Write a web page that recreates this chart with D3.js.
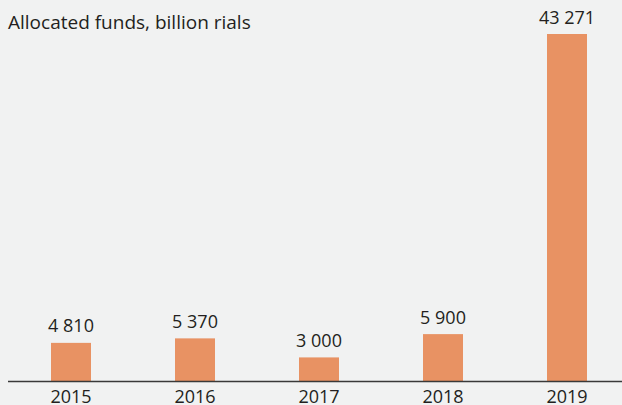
<!DOCTYPE html>
<html>
<head>
<meta charset="utf-8">
<script src="https://cdn.jsdelivr.net/npm/d3@7"></script>
<style>
  body { margin: 0; background: #f1f2f2; }
  svg { display: block; }
  text { font-family: "Open Sans", "Noto Sans", sans-serif; fill: #231f20; }
</style>
</head>
<body>
<div id="chart"></div>
<script>
// data
const years = ["2015", "2016", "2017", "2018", "2019"];
const funds = [4810, 5370, 3000, 5900, 43271];
const title = "Allocated funds, billion rials";

const width = 622, height = 405;
const baseline = 381.5;

const svg = d3.select("#chart").append("svg")
    .attr("width", width)
    .attr("height", height);

svg.append("rect")
    .attr("width", width)
    .attr("height", height)
    .attr("fill", "#f1f2f2");

// scales
const pad = 84 / 124;
const x = d3.scaleBand()
    .domain(years)
    .range([9, 629])
    .paddingInner(pad)
    .paddingOuter(pad / 2);

const y = d3.scaleLinear()
    .domain([0, 43271])
    .range([baseline, 34]);

const data = years.map((yr, i) => ({year: yr, value: funds[i]}));

// bars
svg.selectAll("rect.bar")
    .data(data)
    .enter()
    .append("rect")
    .attr("class", "bar")
    .attr("x", d => x(d.year))
    .attr("width", x.bandwidth())
    .attr("y", d => y(d.value))
    .attr("height", d => baseline - y(d.value))
    .attr("fill", "#e89263");

// value labels
const fmt = v => d3.format(",")(v).replace(/,/g, " ");
svg.selectAll("text.val")
    .data(data)
    .enter()
    .append("text")
    .attr("class", "val")
    .attr("x", d => x(d.year) + x.bandwidth() / 2)
    .attr("y", d => y(d.value) - 10.5)
    .attr("text-anchor", "middle")
    .style("font-size", "18px")
    .text(d => fmt(d.value));

// x axis
const axis = svg.append("g")
    .attr("transform", "translate(0," + baseline + ")")
    .call(d3.axisBottom(x).tickSize(0));
axis.select(".domain")
    .attr("d", "M8,0H622")
    .attr("stroke", "#3a3a3a")
    .attr("stroke-width", 1.3);
axis.selectAll("text")
    .attr("y", 21.5)
    .attr("dy", 0)
    .style("font-size", "18px")
    .style("font-family", "\"Open Sans\", \"Noto Sans\", sans-serif")
    .attr("fill", "#231f20");

// title
svg.append("text")
    .attr("x", 8)
    .attr("y", 29)
    .style("font-size", "19px")
    .text(title);
</script>
</body>
</html>
